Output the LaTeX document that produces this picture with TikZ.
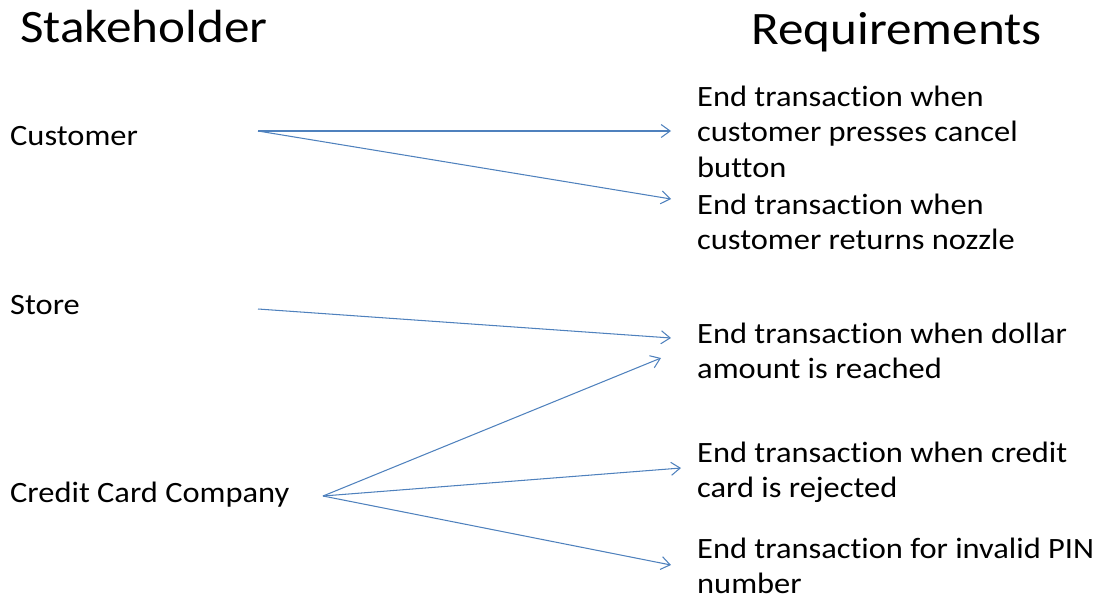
\documentclass[tikz,border=0pt]{standalone}
\usepackage{fontspec}
\setmainfont{Carlito}[FakeStretch=1.1, Ligatures=NoCommon]
\usetikzlibrary{arrows.meta}
\definecolor{linkblue}{HTML}{4F81BD}
\tikzset{
  head/.style={anchor=base west, inner sep=0pt, font=\fontsize{46.5}{56}\selectfont},
  holder/.style={anchor=base west, inner sep=0pt, font=\fontsize{29.5}{35.6}\selectfont},
  req/.style={anchor=base west, inner sep=0pt, font=\fontsize{29.5}{35.6}\selectfont},
  link/.style={draw=linkblue, line width=1.05pt, -{Straight Barb[length=9pt,width=13pt,line width=1.05pt]}}
}
\newcommand{\twolines}[2]{\vtop{\hbox{#1}\hbox{#2}}}
\newcommand{\threelines}[3]{\vtop{\hbox{#1}\hbox{#2}\hbox{#3}}}
\begin{document}
\begin{tikzpicture}[x=1pt,y=-1pt]
\useasboundingbox (0,0) rectangle (1099,598);
% headings
\node[head] (hs) at (20,42) {Stakeholder};
\node[head] (hr) at (751,44) {Requirements};
% stakeholders
\node[holder] (cust) at (10,145) {Customer};
\node[holder] (store) at (10,314) {Store};
\node[holder] (ccc) at (10,502) {Credit Card Company};
% requirements
\node[req] (r1) at (697,106) {\threelines{End transaction when}{customer presses cancel}{button}};
\node[req] (r2) at (697,214) {\twolines{End transaction when}{customer returns nozzle}};
\node[req] (r3) at (697,343) {\twolines{End transaction when dollar}{amount is reached}};
\node[req] (r4) at (697,462) {\twolines{End transaction when credit}{card is rejected}};
\node[req] (r5) at (697,558) {\twolines{End transaction for invalid PIN}{number}};
% connector end points
\coordinate (cust-o) at (258,131);
\coordinate (store-o) at (258,309);
\coordinate (ccc-o) at (323,496);
\coordinate (r1-i) at (671,131);
\coordinate (r2-i) at (671,199);
\coordinate (r3-i) at (671,338);
\coordinate (r3-j) at (661,358);
\coordinate (r4-i) at (681,468);
\coordinate (r5-i) at (671,565);
% connectors
\draw[link] (cust-o) -- (r1-i);
\draw[link] (cust-o) -- (r2-i);
\draw[link] (store-o) -- (r3-i);
\draw[link] (ccc-o) -- (r3-j);
\draw[link] (ccc-o) -- (r4-i);
\draw[link] (ccc-o) -- (r5-i);
\end{tikzpicture}
\end{document}
